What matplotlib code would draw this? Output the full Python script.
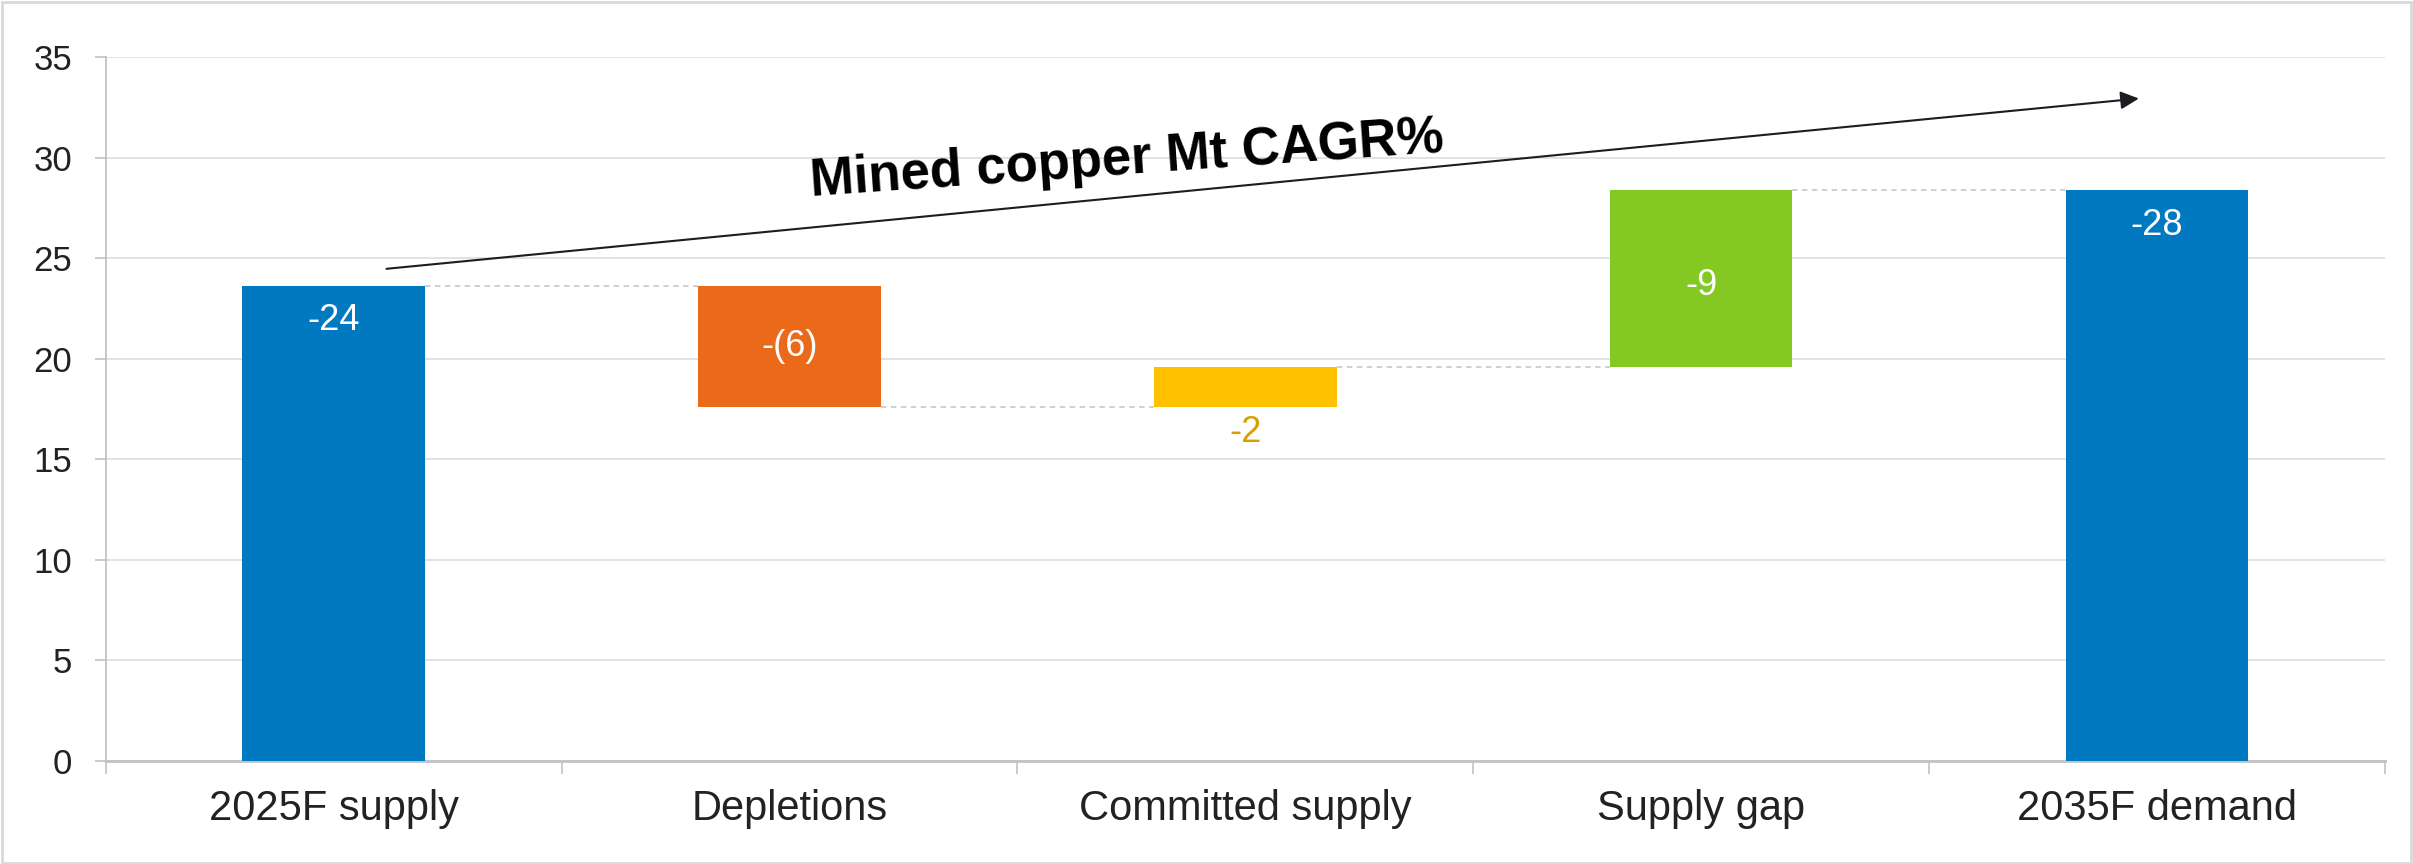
import numpy as np
import matplotlib.pyplot as plt
from matplotlib.patches import Rectangle
from matplotlib.ticker import FixedLocator

plt.rcParams['font.family'] = ['Liberation Sans', 'DejaVu Sans']

# Waterfall data (Mt)
categories = ['2025F supply', 'Depletions', 'Committed supply', 'Supply gap', '2035F demand']
start_value = 23.6
steps = [-6.0, 2.0, 8.8]
end_value = 28.4
value_labels = ['-24', '-(6)', '-2', '-9', '-28']
bar_colors = ['#0079C1', '#EA6A1A', '#FFC000', '#84C823', '#0079C1']
label_colors = ['white', 'white', '#D6A100', 'white', 'white']

# Build bottoms / tops for the floating bars
bottoms = [0.0]
tops = [start_value]
level = start_value
for s in steps:
    new_level = level + s
    bottoms.append(min(level, new_level))
    tops.append(max(level, new_level))
    level = new_level
bottoms.append(0.0)
tops.append(end_value)
bottoms = np.array(bottoms)
tops = np.array(tops)

fig = plt.figure(figsize=(24.13, 8.64), dpi=100)
ax = fig.add_axes([0.0438, 0.1192, 0.9446, 0.8145])

x = np.arange(len(categories))
width = 0.4
ax.bar(x, tops - bottoms, bottom=bottoms, width=width, color=bar_colors, zorder=3)

# dashed connectors between bars
levels = [start_value]
level = start_value
for s in steps:
    level += s
    levels.append(level)
for i, lv in enumerate(levels):
    ax.plot([x[i] + width / 2, x[i + 1] - width / 2], [lv, lv], color='#C8CBD0',
            lw=1.3, ls=(0, (3, 2.5)), zorder=2)

# value labels
label_y = [tops[0] - 1.7, (bottoms[1] + tops[1]) / 2, bottoms[2] - 1.25,
           (bottoms[3] + tops[3]) / 2 - 0.35, tops[4] - 1.75]
for i in range(len(categories)):
    ax.text(x[i], label_y[i], value_labels[i], ha='center', va='center',
            fontsize=26, color=label_colors[i], zorder=4)

# trend arrow and caption
ax.annotate('', xy=(3.96, 32.95), xytext=(0.116, 24.48),
            arrowprops=dict(arrowstyle='-|>,head_length=0.55,head_width=0.27',
                            mutation_scale=20, color='#1a1d22', lw=1.5,
                            shrinkA=0, shrinkB=0), zorder=5)
ax.text(1.74, 29.9, 'Mined copper Mt CAGR%', ha='center', va='center',
        rotation=4, fontsize=38, fontweight='bold', color='black', zorder=5)

# axes styling
ax.set_xlim(-0.5, len(categories) - 0.5)
ax.set_ylim(0, 35)
ax.set_yticks(np.arange(0, 36, 5))
ax.set_xticks(x)
ax.set_xticklabels(categories)
ax.xaxis.set_minor_locator(FixedLocator(np.arange(-0.5, len(categories), 1.0)))
ax.tick_params(axis='x', which='major', length=0, pad=20, labelsize=30, labelcolor='#222222')
ax.tick_params(axis='x', which='minor', length=9, width=1.2, color='#BFC3C8')
ax.tick_params(axis='y', length=8, width=1.2, color='#BFC3C8', pad=16,
               labelsize=25, labelcolor='#222222')
ax.grid(axis='y', color='#DDDDDD', lw=1.2, zorder=0)
ax.set_axisbelow(True)
for side in ['top', 'right']:
    ax.spines[side].set_visible(False)
ax.spines['left'].set_color('#BFC3C8')
ax.spines['left'].set_linewidth(1.3)
ax.spines['bottom'].set_color('#BFC3C8')
ax.spines['bottom'].set_linewidth(2)

# light frame around the whole chart
fig.add_artist(Rectangle((0.001, 0.001), 0.998, 0.997, transform=fig.transFigure,
                         fill=False, ec='#D9D9D9', lw=2))

fig.savefig('out.png', dpi=100)
